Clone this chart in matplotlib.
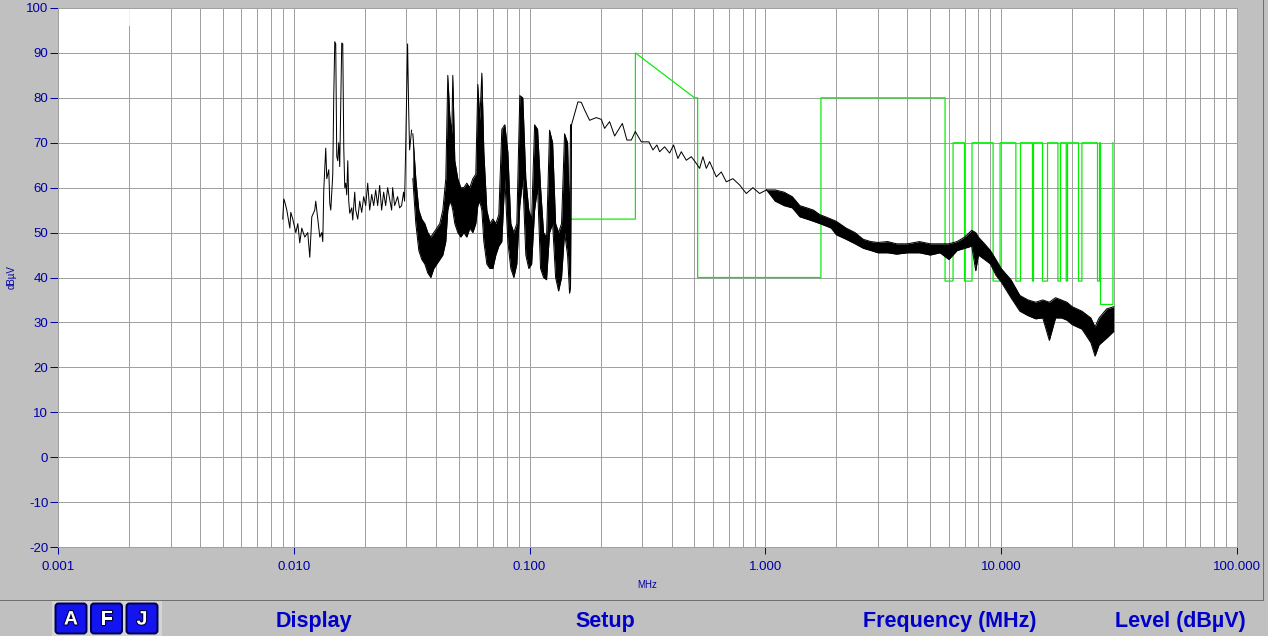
"""
EMI scan: level vs frequency with limit line (receiver screen style)
"""

import numpy as np
import matplotlib
matplotlib.use('Agg')
import matplotlib.pyplot as plt
from matplotlib.patches import Rectangle, FancyBboxPatch
import matplotlib.patheffects as pe

plt.rcParams['font.family'] = ['Liberation Sans', 'DejaVu Sans']
plt.rcParams['axes.unicode_minus'] = False

# ---- data read from the screen ----
# 9 kHz .. 32 kHz, single trace
scan_lo_f = [0.00898, 0.00907, 0.00916, 0.00934, 0.00962, 0.00971, 0.00990, 0.01020, 0.01040, 0.01060,
             0.01081, 0.01113, 0.01146, 0.01169, 0.01192, 0.01227, 0.01239, 0.01264, 0.01289, 0.01314,
             0.01327, 0.01340, 0.01366, 0.01380, 0.01407, 0.01421, 0.01435, 0.01463, 0.01477, 0.01492,
             0.01506, 0.01521, 0.01536, 0.01551, 0.01566, 0.01597, 0.01613, 0.01629, 0.01645, 0.01661,
             0.01677, 0.01694, 0.01710, 0.01727, 0.01761, 0.01778, 0.01813, 0.01831, 0.01867, 0.01904,
             0.01941, 0.01979, 0.02018, 0.02058, 0.02098, 0.02140, 0.02182, 0.02225, 0.02268, 0.02313,
             0.02358, 0.02405, 0.02452, 0.02500, 0.02549, 0.02600, 0.02625, 0.02677, 0.02756, 0.02810,
             0.02865, 0.02921, 0.02950, 0.02979, 0.03008, 0.03038, 0.03068, 0.03098, 0.03159]
scan_lo_db = [53, 57.5, 56.8, 55, 51, 54.5, 53, 50, 52, 47.7,
              51, 49, 50, 44.5, 53.5, 55, 57, 53, 49, 50,
              48, 59.5, 68.8, 62, 64, 56.5, 55, 63, 80, 92.5,
              92, 67, 66, 70, 64.7, 92.2, 92, 68.8, 60, 61,
              58.4, 66, 57, 54.3, 55.5, 52.8, 59, 55, 53, 57,
              54.5, 58, 56, 61, 55, 58.5, 56, 59.5, 56, 60.5,
              55, 59, 56, 60, 57.5, 55, 60, 56, 58, 55.5,
              56, 59, 57, 67.7, 80, 92, 78, 68.4, 72.8]

# 32 kHz .. 150 kHz, harmonic bursts (upper / lower envelope)
harm_f = [0.03197, 0.03292, 0.03390, 0.03490, 0.03594, 0.03701, 0.03811, 0.03924, 0.04041, 0.04161,
          0.04285, 0.04412, 0.04499, 0.04587, 0.04678, 0.04723, 0.04817, 0.04960, 0.05108, 0.05260,
          0.05416, 0.05578, 0.05743, 0.05914, 0.06031, 0.06150, 0.06272, 0.06396, 0.06586, 0.06782,
          0.06983, 0.07191, 0.07404, 0.07624, 0.07851, 0.08084, 0.08324, 0.08571, 0.08826, 0.09088,
          0.09358, 0.09636, 0.09922, 0.1020, 0.1050, 0.1081, 0.1113, 0.1146, 0.1180, 0.1215,
          0.1252, 0.1289, 0.1327, 0.1366, 0.1407, 0.1449, 0.1477, 0.1491, 0.1506]
harm_hi = [72, 62, 55, 53, 52, 50, 49, 50, 51, 52,
           55, 62, 85, 76, 72, 85, 66, 62, 60, 60,
           61, 60, 62, 63, 83, 75, 85.5, 68, 55, 52,
           53, 52, 54, 73, 74, 68, 52, 50, 52, 80.5,
           80, 62, 55, 53, 74, 73, 60, 50, 49, 72.8,
           70, 52, 50, 52, 72, 70, 52, 74, 74]
harm_lo = [62, 52, 46, 44, 43, 41, 40, 42, 43, 44,
           45, 48, 55, 57, 56, 55, 52, 50, 49, 50,
           49, 51, 50, 52, 56, 57, 55, 48, 43, 42,
           42, 45, 47, 48, 62, 48, 42, 40, 43, 56,
           62, 45, 42, 43, 55, 60, 42, 40, 39.5, 50,
           52, 40, 37, 40, 50, 45, 36.5, 38, 74]

# 150 kHz .. 1 MHz, single trace
slope_f = [0.1506, 0.1603, 0.1657, 0.1711, 0.1797, 0.1918, 0.2015, 0.2080, 0.2184, 0.2294,
           0.2474, 0.2586, 0.2700, 0.2807, 0.2977, 0.3206, 0.3334, 0.3467, 0.3559, 0.3737,
           0.3924, 0.4080, 0.4256, 0.4399, 0.4619, 0.4851, 0.5093, 0.5260, 0.5433, 0.5616,
           0.5800, 0.6192, 0.6501, 0.6826, 0.7281, 0.7775, 0.8299, 0.8851, 0.9450, 1.011]
slope_db = [74, 79.1, 79, 77.3, 75, 75.6, 75.2, 73.2, 74.7, 71.5,
            74.3, 70.6, 70.6, 72.5, 70.2, 70.2, 68.4, 69.5, 68, 69.1,
            67.7, 69.5, 66.5, 68, 66.1, 66.9, 65.4, 64.3, 66.9, 64.3,
            65.8, 62.4, 63.5, 61.3, 62, 60.6, 58.7, 60, 58.7, 59.5]

# 1 MHz .. 30 MHz, noise band (upper / lower envelope)
hf_f = [1.011, 1.1, 1.2, 1.3, 1.4, 1.5, 1.6, 1.7, 1.8, 1.9,
        2.0, 2.2, 2.4, 2.6, 2.8, 3.0, 3.3, 3.6, 4.0, 4.5,
        5.0, 5.5, 6.0, 6.5, 7.0, 7.5, 7.8, 8.0, 8.5, 9.0,
        9.5, 10, 11, 12, 13, 14, 15, 16, 17, 18,
        19, 20, 22, 24, 25, 26, 28, 30]
hf_hi = [59.5, 59.5, 59, 58, 56, 55.5, 55, 54, 53.5, 53,
         52.5, 51, 50, 48.5, 48, 47.8, 48, 47.5, 47.5, 48,
         47.5, 47.5, 47.5, 48, 49, 50.5, 50, 49, 47.5, 46,
         44, 42, 39.5, 36, 35, 34.5, 35, 34.5, 35.5, 35,
         34.5, 33.5, 32.5, 31, 29, 31, 33, 33.5]
hf_lo = [59.5, 57, 56, 55.5, 53.5, 53, 52.5, 52, 51.5, 51,
         49.5, 48.5, 47.5, 46.5, 46, 45.5, 45.5, 45.2, 45.5, 45.5,
         45, 45.5, 44, 46, 46.5, 47, 41.5, 45, 44, 43,
         40.5, 39, 35.5, 32.5, 31.5, 30.8, 31, 26, 31, 31,
         30.5, 29.5, 28.5, 25.5, 22.5, 25, 26.5, 28]

# limit line vertices
limit_f = [0.150, 0.281, 0.281, 0.501, 0.516, 0.516, 1.72, 1.72, 5.78, 5.78,
           6.25, 6.25, 6.99, 6.99, 7.52, 7.52, 9.24, 9.24, 9.89, 9.89,
           11.54, 11.54, 12.07, 12.07, 13.57, 13.57, 13.71, 13.71, 14.97, 14.97,
           15.72, 15.72, 17.40, 17.40, 17.85, 17.85, 18.87, 18.87, 19.11, 19.11,
           21.27, 21.27, 21.99, 21.99, 25.61, 25.61, 26.12, 26.12, 26.37, 26.37,
           29.77, 29.77]
limit_db = [53, 53, 90, 80, 80, 40, 40, 80, 80, 39.2,
            39.2, 70, 70, 39.2, 39.2, 70, 70, 39.2, 39.2, 70,
            70, 39.2, 39.2, 70, 70, 39.2, 39.2, 70, 70, 39.2,
            39.2, 70, 70, 39.2, 39.2, 70, 70, 39.2, 39.2, 70,
            70, 39.2, 39.2, 70, 70, 39.2, 39.2, 70, 70, 34,
            34, 70]

x_ticks = [0.001, 0.01, 0.1, 1, 10, 100]
x_tick_labels = ['0.001', '0.010', '0.100', '1.000', '10.000', '100.000']
y_ticks = list(range(-20, 101, 10))

bottom_menu = ['Display', 'Setup', 'Frequency (MHz)', 'Level (dBµV)']
menu_x = [314, 605, 950, 1180]
buttons = ['A', 'F', 'J']

W, H = 1268, 636
BG = '#c0c0c0'
GRID = '#a0a0a0'
BLUE = '#0000a8'
LW = 0.72  # one pixel at 100 dpi

fig = plt.figure(figsize=(W / 100, H / 100), dpi=100, facecolor=BG)
ax = fig.add_axes([58 / W, (H - 547) / H, (1237 - 58) / W, (547 - 8) / H])
ax.set_facecolor('white')
ax.set_xscale('log')
ax.set_xlim(0.001, 100)
ax.set_ylim(-20, 100)

# grid: every 1..9 per decade, every 10 dB
grid_f = [m * 10.0 ** k for k in range(-3, 2) for m in range(1, 10)]
ax.vlines(grid_f, -20, 100, colors=GRID, lw=LW, zorder=1)
ax.hlines(y_ticks, 0.001, 100, colors=GRID, lw=LW, zorder=1)
ax.vlines([0.002], 96, 100, colors='white', lw=1.2, zorder=1.5)

# limit line
ax.plot(limit_f, limit_db, color='#00ee00', lw=LW * 1.2, zorder=2)

# measurement trace
tr = dict(color='black', lw=LW, zorder=3)
ax.plot(scan_lo_f, scan_lo_db, **tr)
ax.fill_between(harm_f, harm_lo, harm_hi, color='black', lw=0, zorder=3)
ax.plot(harm_f, harm_hi, **tr)
ax.plot(harm_f, harm_lo, **tr)
ax.plot(slope_f, slope_db, **tr)
ax.fill_between(hf_f, hf_lo, hf_hi, color='black', lw=0, zorder=3)
ax.plot(hf_f, hf_hi, **tr)
ax.plot(hf_f, hf_lo, **tr)

ax.set_xticks(x_ticks)
ax.set_xticklabels(x_tick_labels)
ax.xaxis.set_minor_locator(matplotlib.ticker.NullLocator())
ax.set_yticks(y_ticks)
ax.set_yticklabels([str(v) for v in y_ticks])
ax.tick_params(axis='both', colors=BLUE, labelsize=9.5, width=LW, direction='out')
ax.tick_params(axis='x', length=5, pad=5)
ax.tick_params(axis='y', length=6, pad=1)
for s in ax.spines.values():
    s.set_color(GRID)
    s.set_linewidth(LW)
ax.set_xlabel('MHz', color=BLUE, fontsize=7, labelpad=5)
fig.text(12 / W, 1 - 277 / H, 'dBµV', color=BLUE, fontsize=7, rotation=90,
         ha='center', va='center')

# overlay in pixel coordinates for the status bar
ov = fig.add_axes([0, 0, 1, 1], zorder=5)
ov.set_xlim(0, W)
ov.set_ylim(H, 0)
ov.axis('off')
ov.patch.set_alpha(0)

ov.plot([0, 1263], [599.5, 599.5], color='#202020', lw=LW, ls=(0, (1, 1)))
ov.plot([1263, 1263], [0, 599.5], color='#202020', lw=LW, ls=(0, (1, 1)))

ov.add_patch(Rectangle((52, 601), 110, 35, fc='#d4d4d4', ec='none'))
for i, letter in enumerate(buttons):
    x0 = 56 + i * 35.5
    ov.add_patch(FancyBboxPatch((x0, 604), 30, 29, boxstyle='round,pad=0.5,rounding_size=3',
                                fc='#1414f0', ec='#00004a', lw=1.4))
    ov.text(x0 + 15, 620, letter, color='white', fontsize=14, fontweight='bold',
            ha='center', va='center',
            path_effects=[pe.withStroke(linewidth=1.6, foreground='#000040')])

for label, xc in zip(bottom_menu, menu_x):
    ov.text(xc, 621, label, color='#0000c8', fontsize=15.5, fontweight='bold',
            ha='center', va='center')

fig.savefig('out.png', dpi=100, facecolor=BG)
